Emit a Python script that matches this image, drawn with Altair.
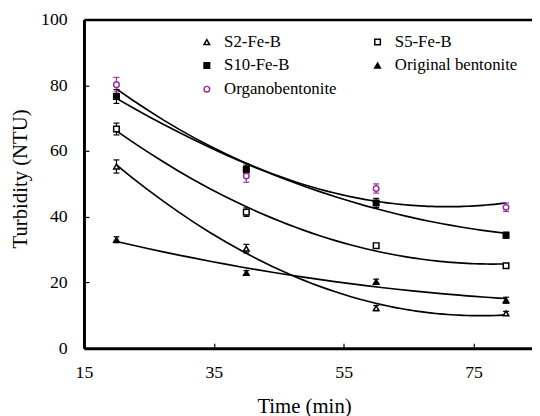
import altair as alt
import pandas as pd

# ---- data ----
times = [20, 40, 60, 80]
series_names = ["S2-Fe-B", "S5-Fe-B", "S10-Fe-B", "Original bentonite", "Organobentonite"]

s2_vals = [55.3, 30.3, 12.2, 10.6]
s5_vals = [66.7, 41.4, 31.2, 25.1]
s10_vals = [76.6, 54.4, 44.2, 34.4]
orig_vals = [33.0, 22.9, 20.2, 14.6]
organo_vals = [80.2, 52.4, 48.6, 42.9]

s2_err = [2.0, 1.3, 0.8, 0.6]
s5_err = [1.8, 1.3, 0.7, 0.7]
s10_err = [2.1, 1.3, 1.4, 0.9]
orig_err = [0.9, 0.7, 0.8, 0.9]
organo_err = [2.2, 1.9, 1.4, 1.3]

x_ticks = [15, 35, 55, 75]
y_ticks = [0, 20, 40, 60, 80, 100]
x_range = [15, 84]
y_range = [0, 100]

# legend is filled column by column: column 1 then column 2
legend_order = ["S2-Fe-B", "S10-Fe-B", "Organobentonite", "S5-Fe-B", "Original bentonite"]
stroke_colors = {"S2-Fe-B": "black", "S5-Fe-B": "black", "S10-Fe-B": "black",
                 "Original bentonite": "black", "Organobentonite": "#9a2f9e"}
fill_colors = {"S2-Fe-B": "white", "S5-Fe-B": "white", "S10-Fe-B": "black",
               "Original bentonite": "black", "Organobentonite": "white"}
shapes = {"S2-Fe-B": "triangle-up", "S5-Fe-B": "square", "S10-Fe-B": "square",
          "Original bentonite": "triangle-up", "Organobentonite": "circle"}

values = [s2_vals, s5_vals, s10_vals, orig_vals, organo_vals]
errors = [s2_err, s5_err, s10_err, orig_err, organo_err]

rows = []
for name, vals, errs in zip(series_names, values, errors):
    for t, v, e in zip(times, vals, errs):
        rows.append({"series": name, "time": t, "turbidity": v, "lo": v - e, "hi": v + e})
df = pd.DataFrame(rows)

FONT = "Liberation Serif"

x_scale = alt.Scale(domain=x_range, nice=False, zero=False)
y_scale = alt.Scale(domain=y_range, nice=False)

# axes carrying ticks (pointing inward), labels and titles
x_axis = alt.Axis(orient="bottom", values=x_ticks, title="Time (min)", offset=-5, domain=False,
                  tickSize=5, tickWidth=1.2, tickColor="black", labelPadding=16,
                  labelFontSize=18, titleFontSize=21, titlePadding=14, grid=False,
                  labelFlush=False, labelOverlap=False, titleX=223,
                  labelFont=FONT, titleFont=FONT, titleFontWeight="normal",
                  labelColor="black", titleColor="black")
y_axis = alt.Axis(orient="left", values=y_ticks, title="Turbidity (NTU)", offset=-5, domain=False,
                  tickSize=5, tickWidth=1.2, tickColor="black", labelPadding=17,
                  labelFontSize=18, titleFontSize=21, titlePadding=10, grid=False,
                  labelFlush=False, labelOverlap=False, titleY=161,
                  labelFont=FONT, titleFont=FONT, titleFontWeight="normal",
                  labelColor="black", titleColor="black")

# axes drawing only the frame lines
frame_bottom = alt.Axis(orient="bottom", offset=0, domain=True, domainColor="black",
                        domainWidth=3, ticks=False, labels=False, title=None, grid=False)
frame_left = alt.Axis(orient="left", offset=0, domain=True, domainColor="black",
                      domainWidth=3, ticks=False, labels=False, title=None, grid=False)
frame_top = alt.Axis(orient="top", offset=0, domain=True, domainColor="black",
                     domainWidth=2.5, ticks=False, labels=False, title=None, grid=False)

stroke_scale = alt.Scale(domain=legend_order, range=[stroke_colors[s] for s in legend_order])
fill_scale = alt.Scale(domain=legend_order, range=[fill_colors[s] for s in legend_order])
shape_scale = alt.Scale(domain=legend_order, range=[shapes[s] for s in legend_order])

legend = alt.Legend(title=None, orient="none", legendX=116, legendY=14, columns=2,
                    columnPadding=33, rowPadding=6, padding=0,
                    labelFont=FONT, labelFontSize=17, labelColor="black",
                    labelOffset=9, symbolSize=32, symbolStrokeWidth=1.5)


def X(field, axis=None):
    return alt.X(field, type="quantitative", scale=x_scale, axis=axis)


def Y(field, axis=None):
    return alt.Y(field, type="quantitative", scale=y_scale, axis=axis)


stroke_enc = alt.Stroke("series:N", scale=stroke_scale, legend=legend)

base = alt.Chart(df)

fits = base.transform_regression(
    "time", "turbidity", groupby=["series"], method="poly", order=2, extent=[20, 80]
).mark_line(color="black", strokeWidth=1.7).encode(
    x=X("time", frame_bottom), y=Y("turbidity", frame_left), detail="series:N",
)

err_rules = base.mark_rule(strokeWidth=1.2).encode(
    x=X("time", frame_top), y=Y("lo"), y2="hi:Q", stroke=stroke_enc,
)
cap_lo = base.mark_rule(strokeWidth=1.2, xOffset=-3, x2Offset=3).encode(
    x=X("time"), x2="time:Q", y=Y("lo"), stroke=stroke_enc,
)
cap_hi = base.mark_rule(strokeWidth=1.2, xOffset=-3, x2Offset=3).encode(
    x=X("time"), x2="time:Q", y=Y("hi"), stroke=stroke_enc,
)

points = base.mark_point(size=32, strokeWidth=1.5, opacity=1).encode(
    x=X("time", x_axis), y=Y("turbidity", y_axis),
    shape=alt.Shape("series:N", scale=shape_scale, legend=legend),
    stroke=stroke_enc,
    fill=alt.Fill("series:N", scale=fill_scale, legend=legend),
)

chart = alt.layer(
    fits, err_rules, cap_lo, cap_hi, points
).resolve_axis(
    x="independent", y="independent"
).properties(
    width=454, height=333,
    padding={"left": 2, "top": 0, "right": 0, "bottom": 0},
    background="white",
).configure_view(stroke=None).configure_axis(
    labelFont=FONT, titleFont=FONT, labelFontSize=18, titleFontSize=21,
    titleFontWeight="normal",
).configure_legend(labelFont=FONT, labelFontSize=17)

chart.save("out.html", embed_options={"renderer": "svg", "actions": False})
